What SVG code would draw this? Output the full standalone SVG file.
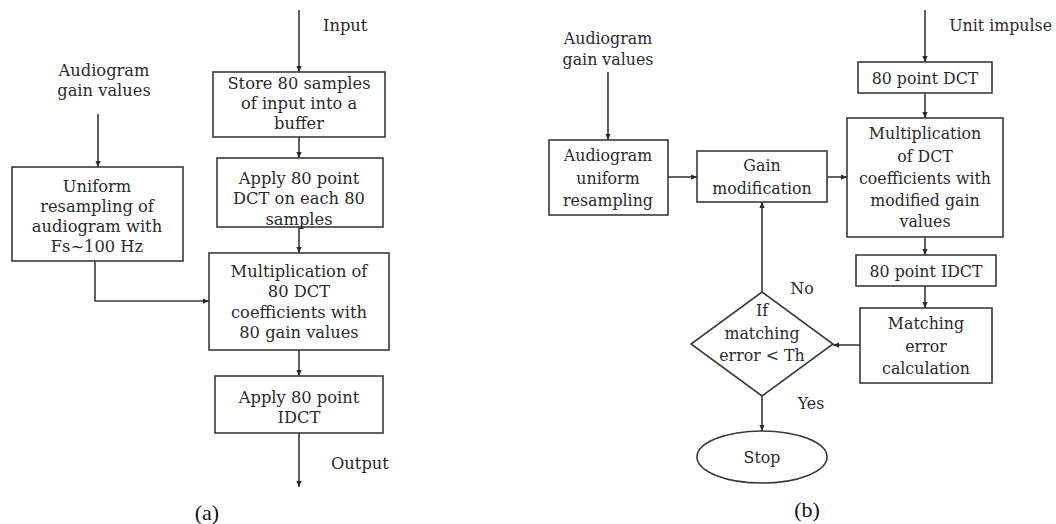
<svg xmlns="http://www.w3.org/2000/svg" width="1056" height="524" viewBox="0 0 1056 524">
<defs>
<style>
.box{fill:#fff;stroke:#3a3a3a;stroke-width:1.6}
.t{font-family:"DejaVu Serif","Liberation Serif",serif;font-size:16.3px;fill:#2a2a2a;text-anchor:middle}
.tb{font-size:15.8px}
.l{text-anchor:start}
.r{text-anchor:end}
.cap{font-family:"Liberation Serif",serif;font-size:22px;fill:#111;text-anchor:middle}
.c{fill:none;stroke:#3a3a3a;stroke-width:1.6}
</style>
<marker id="ah" viewBox="0 0 8 8" refX="8" refY="4" markerWidth="6" markerHeight="6" orient="auto" markerUnits="userSpaceOnUse">
<path d="M0,0.5 L8,4 L0,7.5 Z" fill="#2a2a2a"/>
</marker>
</defs>
<rect width="1056" height="524" fill="#fff"/>

<!-- connectors -->
<g id="connectors" class="c" marker-end="url(#ah)">
<path d="M299,10 V72"/>
<path d="M299,137 V158"/>
<path d="M299,227 V253"/>
<path d="M299,350 V376"/>
<path d="M299,433 V487"/>
<path d="M98,114 V167"/>
<path d="M95,261 V301 H209"/>
<path d="M608,72 V140"/>
<path d="M668,177 H697"/>
<path d="M827,177 H847"/>
<path d="M925,10 V62"/>
<path d="M925,93 V118"/>
<path d="M925,237 V255"/>
<path d="M925,286 V308"/>
<path d="M860,345 H833"/>
<path d="M762,292 V202"/>
<path d="M762,396 V431"/>
</g>

<!-- (a) -->
<g id="input-label"><text class="t l" x="323" y="31">Input</text></g>
<g id="store">
<rect class="box" x="213" y="72" width="172" height="65"/>
<text class="t" x="299" y="89">Store 80 samples</text>
<text class="t" x="299" y="109">of input into a</text>
<text class="t" x="299" y="129">buffer</text>
</g>
<g id="apply-dct">
<rect class="box" x="217" y="158" width="166" height="69"/>
<text class="t" x="299" y="184">Apply 80 point</text>
<text class="t" x="299" y="204">DCT on each 80</text>
<text class="t" x="299" y="225">samples</text>
</g>
<g id="audiogram-a"><text class="t" x="104" y="76">Audiogram</text><text class="t" x="104" y="96">gain values</text></g>
<g id="uniform">
<rect class="box" x="12" y="167" width="171" height="94"/>
<text class="t" x="97" y="192">Uniform</text>
<text class="t" x="97" y="212">resampling of</text>
<text class="t" x="97" y="232">audiogram with</text>
<text class="t" x="97" y="252">Fs~100 Hz</text>
</g>
<g id="mult-a">
<rect class="box" x="209" y="253" width="180" height="97"/>
<text class="t" x="299" y="277">Multiplication of</text>
<text class="t" x="299" y="297">80 DCT</text>
<text class="t" x="299" y="318">coefficients with</text>
<text class="t" x="299" y="338">80 gain values</text>
</g>
<g id="apply-idct">
<rect class="box" x="215" y="376" width="168" height="57"/>
<text class="t" x="299" y="403">Apply 80 point</text>
<text class="t" x="299" y="423">IDCT</text>
</g>
<g id="output-label"><text class="t l" x="331" y="469">Output</text></g>
<g id="cap-a"><text class="cap" x="207" y="520">(a)</text></g>

<!-- (b) -->
<g id="audiogram-b"><text class="t tb" x="608" y="44">Audiogram</text><text class="t tb" x="608" y="65">gain values</text></g>
<g id="aud-resamp">
<rect class="box" x="549" y="140" width="119" height="75"/>
<text class="t tb" x="608" y="161">Audiogram</text>
<text class="t tb" x="608" y="184">uniform</text>
<text class="t tb" x="608" y="206">resampling</text>
</g>
<g id="gain-mod">
<rect class="box" x="697" y="151" width="130" height="51"/>
<text class="t tb" x="762" y="171">Gain</text>
<text class="t tb" x="762" y="194">modification</text>
</g>
<g id="unit-label"><text class="t tb r" x="1052" y="31">Unit impulse</text></g>
<g id="dct-b">
<rect class="box" x="858" y="62" width="134" height="31"/>
<text class="t tb" x="925" y="84">80 point DCT</text>
</g>
<g id="mult-b">
<rect class="box" x="847" y="118" width="156" height="119"/>
<text class="t tb" x="925" y="139">Multiplication</text>
<text class="t tb" x="925" y="162">of DCT</text>
<text class="t tb" x="925" y="184">coefficients with</text>
<text class="t tb" x="925" y="206">modified gain</text>
<text class="t tb" x="925" y="227">values</text>
</g>
<g id="idct-b">
<rect class="box" x="856" y="255" width="140" height="31"/>
<text class="t tb" x="926" y="277">80 point IDCT</text>
</g>
<g id="matching">
<rect class="box" x="860" y="308" width="132" height="75"/>
<text class="t tb" x="926" y="329">Matching</text>
<text class="t tb" x="926" y="352">error</text>
<text class="t tb" x="926" y="374">calculation</text>
</g>
<g id="decision">
<path class="box" d="M762,292 L833,344 L762,396 L691,344 Z"/>
<text class="t tb" x="762" y="316">If</text>
<text class="t tb" x="762" y="339">matching</text>
<text class="t tb" x="762" y="361">error &lt; Th</text>
</g>
<g id="no-label"><text class="t tb" x="802" y="294">No</text></g>
<g id="yes-label"><text class="t tb" x="811" y="409">Yes</text></g>
<g id="stop">
<ellipse class="box" cx="762" cy="457" rx="65" ry="26"/>
<text class="t tb" x="762" y="463">Stop</text>
</g>
<g id="cap-b"><text class="cap" x="807" y="517">(b)</text></g>
</svg>
